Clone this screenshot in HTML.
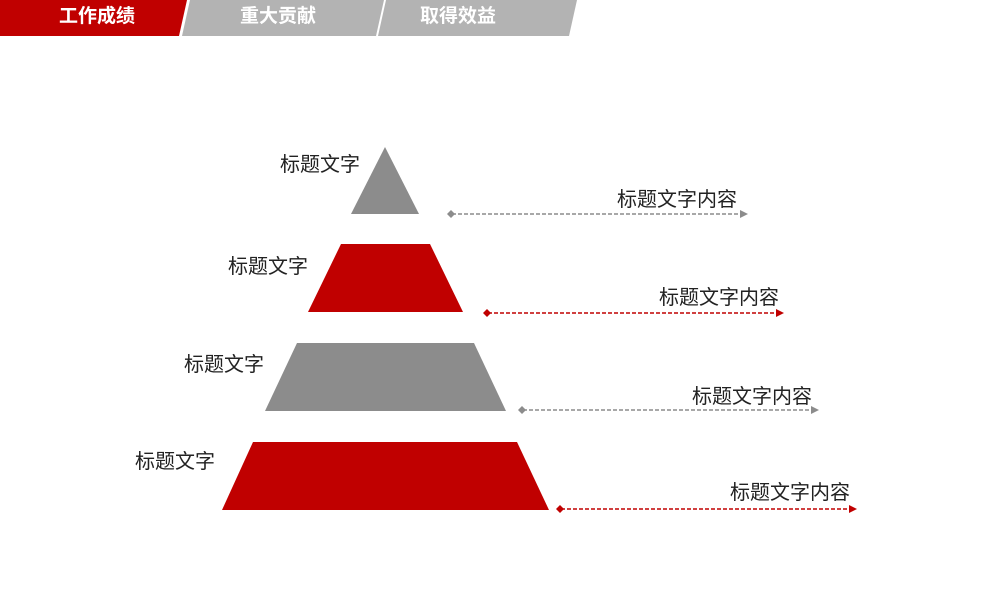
<!DOCTYPE html>
<html><head><meta charset="utf-8"><style>
body{margin:0;width:1000px;height:600px;background:#fff;overflow:hidden;position:relative;font-family:"Liberation Sans","Noto Sans CJK SC",sans-serif}
.t{position:absolute;font-size:20px;color:#222;line-height:24px;white-space:nowrap}
.tab{position:absolute;top:4px;font-size:19px;font-weight:bold;color:#fff;line-height:26px}
</style></head><body>
<svg width="1000" height="600" style="position:absolute;left:0;top:0">
<polygon points="0,0 187,0 179,36 0,36" fill="#c00000"/>
<polygon points="190,0 384,0 376,36 182,36" fill="#b3b3b3"/>
<polygon points="386,0 577,0 569,36 378,36" fill="#b3b3b3"/>
<polygon points="385,147 419,214 351,214" fill="#8c8c8c"/>
<polygon points="341,244 430,244 463,312 308,312" fill="#c00000"/>
<polygon points="297,343 474,343 506,411 265,411" fill="#8c8c8c"/>
<polygon points="253,442 517,442 549,510 222,510" fill="#c00000"/>
<g stroke-width="1.5" stroke-dasharray="4,2">
<line x1="452" y1="214" x2="742" y2="214" stroke="#8c8c8c"/>
<line x1="488" y1="313" x2="778" y2="313" stroke="#c00000"/>
<line x1="523" y1="410" x2="813" y2="410" stroke="#8c8c8c"/>
<line x1="561" y1="509" x2="851" y2="509" stroke="#c00000"/>
</g>
<polygon points="447,214 451,210 455,214 451,218" fill="#8c8c8c"/>
<polygon points="740,210 748,214 740,218" fill="#8c8c8c"/>
<polygon points="483,313 487,309 491,313 487,317" fill="#c00000"/>
<polygon points="776,309 784,313 776,317" fill="#c00000"/>
<polygon points="518,410 522,406 526,410 522,414" fill="#8c8c8c"/>
<polygon points="811,406 819,410 811,414" fill="#8c8c8c"/>
<polygon points="556,509 560,505 564,509 560,513" fill="#c00000"/>
<polygon points="849,505 857,509 849,513" fill="#c00000"/>
</svg>
<div class="tab" style="left:59px">工作成绩</div>
<div class="tab" style="left:240px">重大贡献</div>
<div class="tab" style="left:420px">取得效益</div>
<div class="t" style="left:280px;top:153px">标题文字</div>
<div class="t" style="left:228px;top:255px">标题文字</div>
<div class="t" style="left:184px;top:353px">标题文字</div>
<div class="t" style="left:135px;top:450px">标题文字</div>
<div class="t" style="left:617px;top:188px">标题文字内容</div>
<div class="t" style="left:659px;top:286px">标题文字内容</div>
<div class="t" style="left:692px;top:385px">标题文字内容</div>
<div class="t" style="left:730px;top:481px">标题文字内容</div>
</body></html>
